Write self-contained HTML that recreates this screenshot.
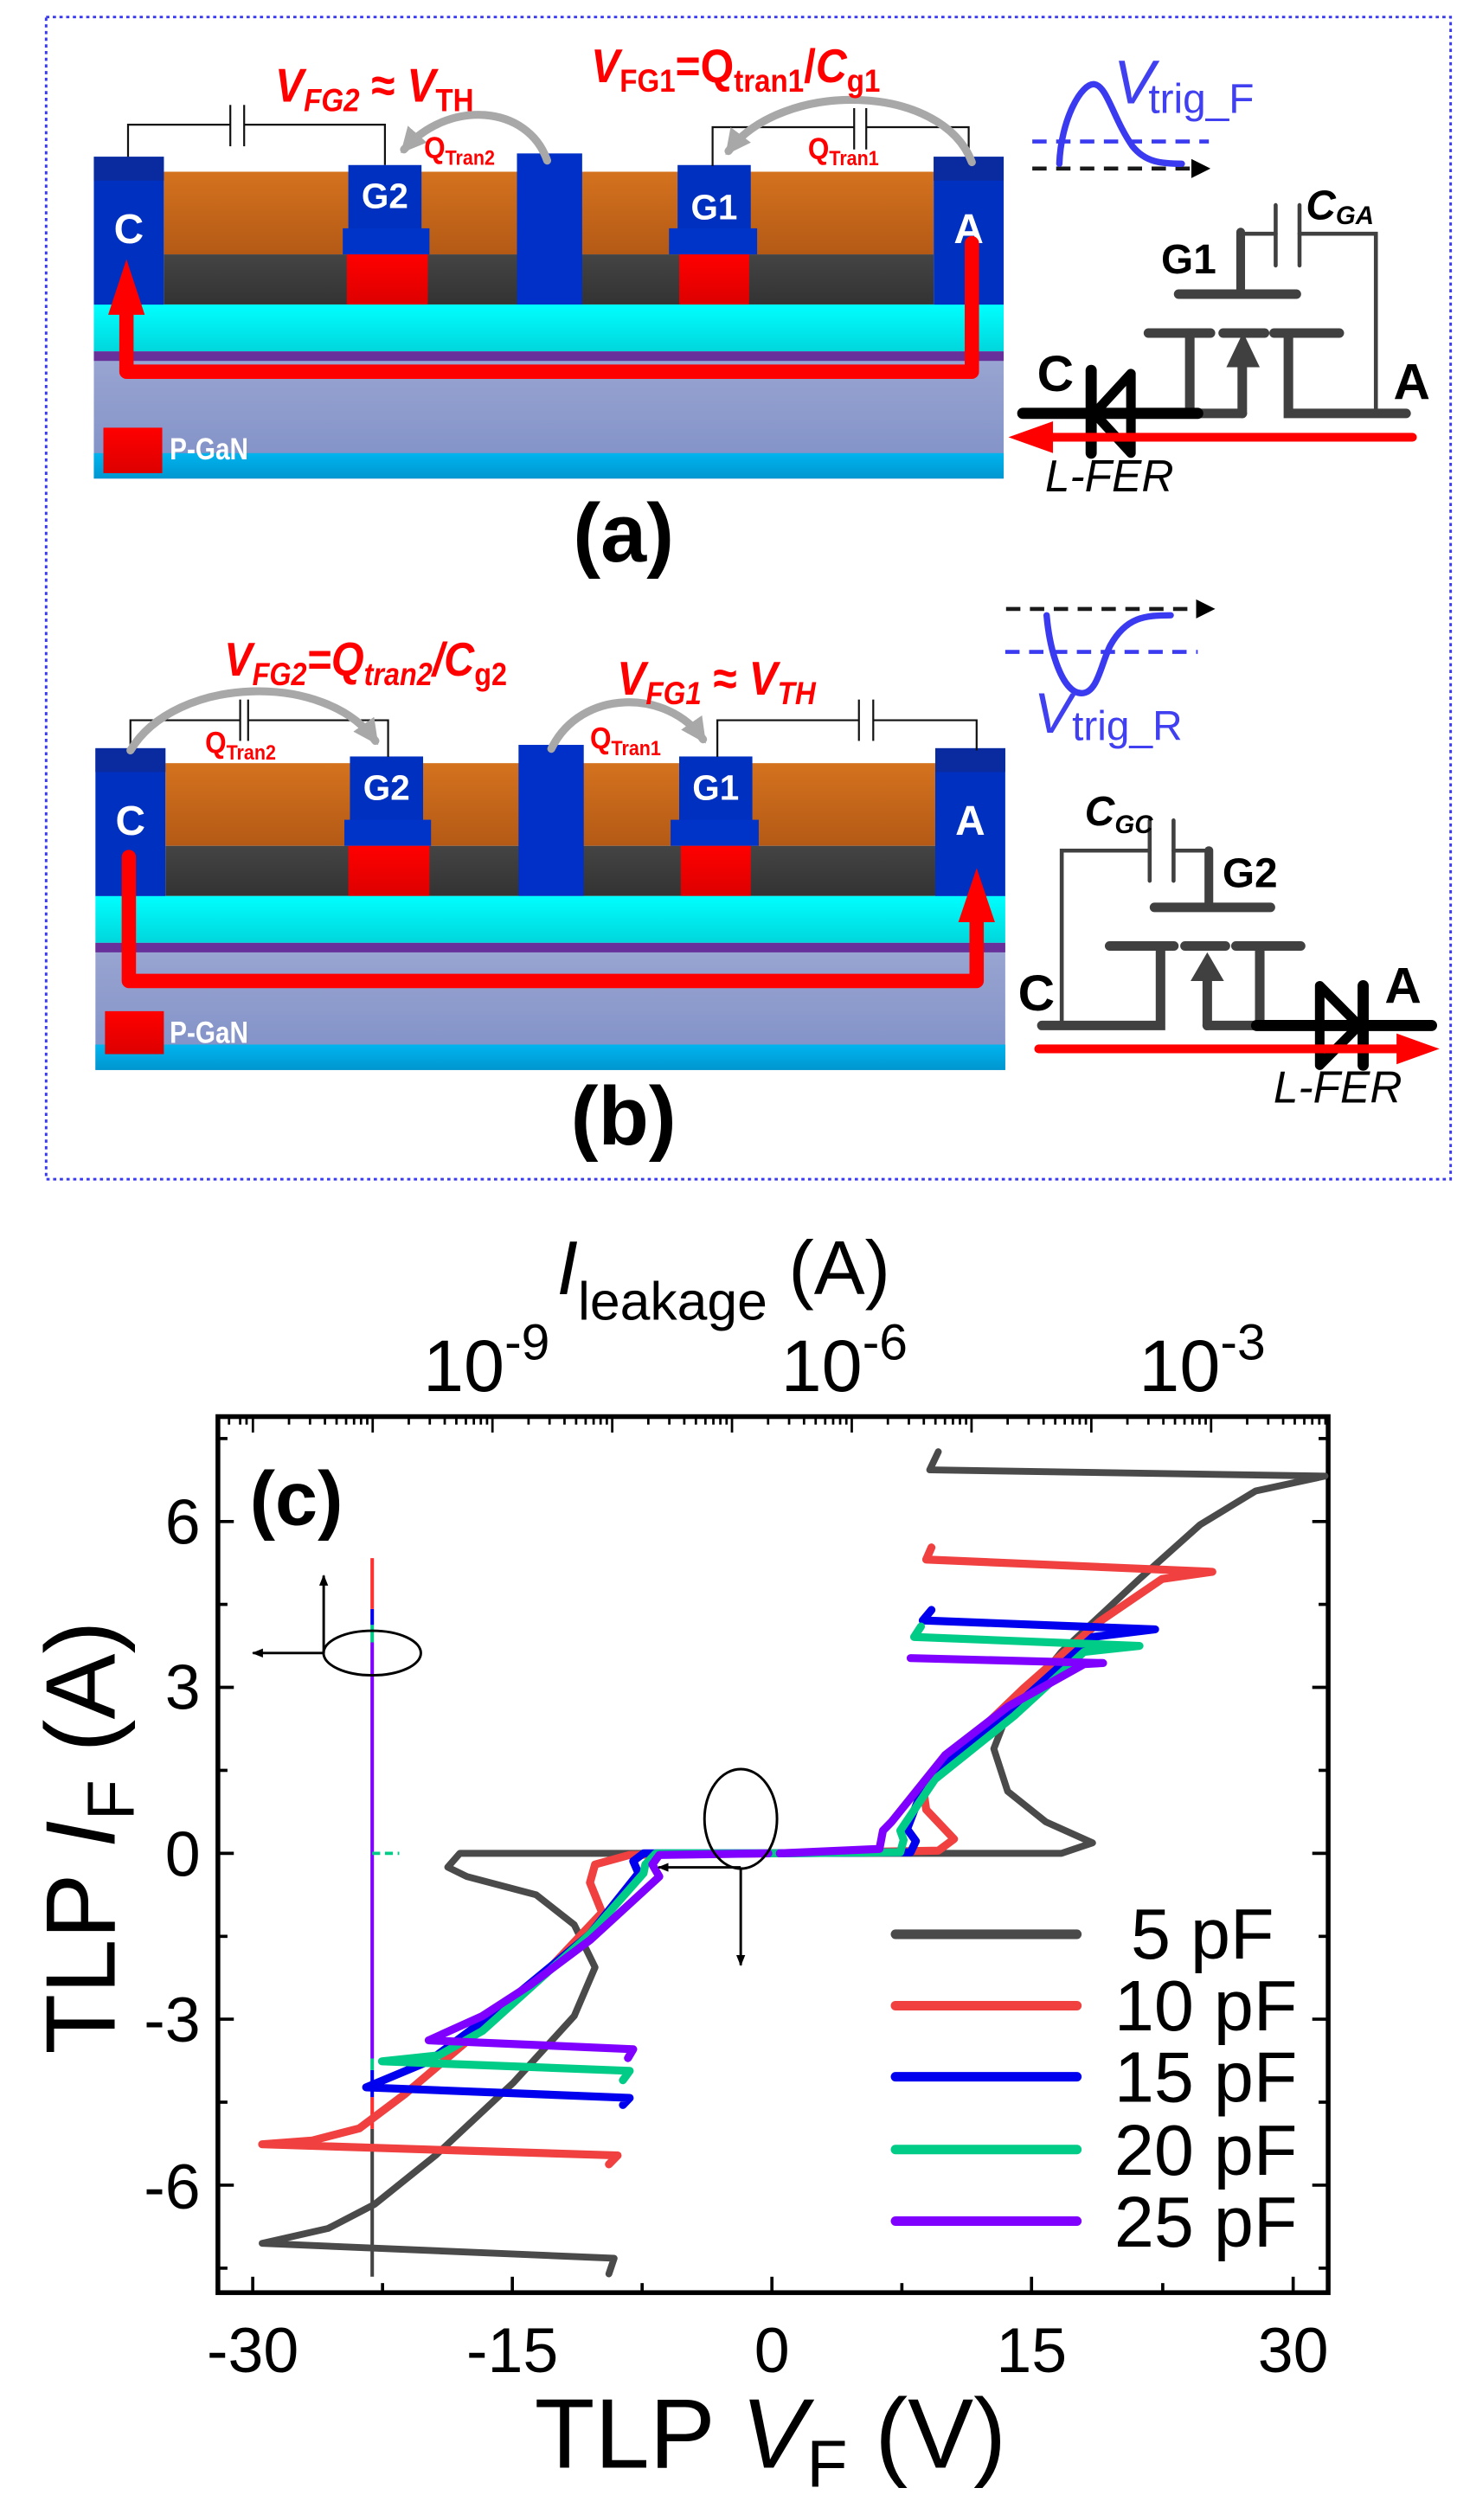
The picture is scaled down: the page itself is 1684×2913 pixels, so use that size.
<!DOCTYPE html>
<html><head><meta charset="utf-8"><style>
html,body{margin:0;padding:0;background:#fff}
svg{display:block}
text{font-family:"Liberation Sans",Arial,sans-serif}
</style></head><body>
<svg width="1684" height="2913" viewBox="0 0 916 1585" preserveAspectRatio="none" xmlns="http://www.w3.org/2000/svg">
<defs>
<linearGradient id="or" x1="0" y1="0" x2="0" y2="1"><stop offset="0" stop-color="#d4721e"/><stop offset="1" stop-color="#b45a16"/></linearGradient>
<linearGradient id="dk" x1="0" y1="0" x2="0" y2="1"><stop offset="0" stop-color="#444"/><stop offset="1" stop-color="#333"/></linearGradient>
<linearGradient id="cy" x1="0" y1="0" x2="0" y2="1"><stop offset="0" stop-color="#00ffff"/><stop offset="1" stop-color="#00d6dc"/></linearGradient>
<linearGradient id="gb" x1="0" y1="0" x2="0" y2="1"><stop offset="0" stop-color="#9aa6d2"/><stop offset="1" stop-color="#7f8fc6"/></linearGradient>
<linearGradient id="bc" x1="0" y1="0" x2="0" y2="1"><stop offset="0" stop-color="#00b4ee"/><stop offset="1" stop-color="#0096d0"/></linearGradient>
<linearGradient id="rd" x1="0" y1="0" x2="0" y2="1"><stop offset="0" stop-color="#ff0000"/><stop offset="1" stop-color="#dd0000"/></linearGradient>
<marker id="ga" viewBox="0 0 10 10" refX="8" refY="5" markerWidth="3.2" markerHeight="3.2" orient="auto"><path d="M0,0 L10,5 L0,10 z" fill="#a8a8a8"/></marker>
<marker id="ka" viewBox="0 0 10 10" refX="9" refY="5" markerWidth="7" markerHeight="7" markerUnits="userSpaceOnUse" orient="auto"><path d="M0,1 L10,5 L0,9 z" fill="#000"/></marker>
</defs>

<rect x="29" y="10.7" width="883" height="731" fill="none" stroke="#3a3af0" stroke-width="1.6" stroke-dasharray="2,2.2"/>

<!-- ============ DEVICE A ============ -->
<g>
<rect x="59" y="221" width="572" height="80" fill="url(#gb)"/>
<rect x="59" y="285" width="572" height="16" fill="url(#bc)"/>
<rect x="59" y="191.5" width="572" height="29.5" fill="url(#cy)"/>
<rect x="59" y="221" width="572" height="6" fill="#67309a"/>
<rect x="103" y="108" width="484" height="52" fill="url(#or)"/>
<rect x="103" y="160" width="484" height="31.5" fill="url(#dk)"/>
<rect x="59" y="98.6" width="44" height="93" fill="#0030c0"/>
<rect x="59" y="98.6" width="44" height="15" fill="#0a2aa0"/>
<rect x="587" y="98.6" width="44" height="93" fill="#0030c0"/>
<rect x="587" y="98.6" width="44" height="15" fill="#0a2aa0"/>
<rect x="325" y="96.5" width="41" height="95" fill="#0030c8"/>
<rect x="219" y="103.8" width="46" height="40" fill="#0030c0"/>
<rect x="215.5" y="143.6" width="54.5" height="16.4" fill="#0033c8"/>
<rect x="218" y="160" width="51" height="31.5" fill="url(#rd)"/>
<rect x="426" y="103.8" width="46" height="40" fill="#0030c0"/>
<rect x="420.6" y="143.6" width="55.4" height="16.4" fill="#0033c8"/>
<rect x="427" y="160" width="44" height="31.5" fill="url(#rd)"/>
<text x="81" y="153" font-size="26" font-weight="bold" fill="#fff" text-anchor="middle">C</text>
<text x="242" y="131" font-size="22" font-weight="bold" fill="#fff" text-anchor="middle">G2</text>
<text x="449" y="138" font-size="22" font-weight="bold" fill="#fff" text-anchor="middle">G1</text>
<text x="609" y="153" font-size="26" font-weight="bold" fill="#fff" text-anchor="middle">A</text>
<rect x="65" y="269" width="37" height="28.6" fill="url(#rd)"/>
<text transform="translate(106.7,289) scale(0.85,1)" font-size="19" font-weight="bold" fill="#fff">P-GaN</text>
</g>
<g stroke="#111" stroke-width="1.2" fill="none">
<polyline points="80.5,98.6 80.5,78.4 144.8,78.4"/>
<line x1="144.8" y1="66" x2="144.8" y2="92"/><line x1="153.5" y1="66" x2="153.5" y2="92"/>
<polyline points="153.5,78.4 242,78.4 242,103.8"/>
<polyline points="448,104.5 448,80 537,80"/>
<line x1="537" y1="68" x2="537" y2="94"/><line x1="544.6" y1="68" x2="544.6" y2="94"/>
<polyline points="544.6,80 609,80 609,98.6"/>
</g>
<g stroke="#a8a8a8" stroke-width="5" fill="none" stroke-linecap="round">
<path d="M344,101 C332,66 282,62 254,94" marker-end="url(#ga)"/>
<path d="M611,102 C592,52 492,50 458,95" marker-end="url(#ga)"/>
</g>
<path d="M611,153 V233.8 H79.5 V196" stroke="#ff0000" stroke-width="9" fill="none" stroke-linejoin="round" stroke-linecap="round"/>
<polygon points="68,198 91,198 79.5,163" fill="#ff0000"/>
<g fill="#ff0000" font-weight="bold">
<text transform="translate(173,64) scale(0.9,1)" font-size="30"><tspan font-style="italic">V</tspan><tspan font-size="20" dy="6" font-style="italic">FG2</tspan><tspan dy="-6"> ≈ </tspan><tspan font-style="italic">V</tspan><tspan font-size="20" dy="6">TH</tspan></text>
<text transform="translate(371.6,51.6) scale(0.9,1)" font-size="30"><tspan font-style="italic">V</tspan><tspan font-size="20" dy="6">FG1</tspan><tspan dy="-6">=Q</tspan><tspan font-size="20" dy="6">tran1</tspan><tspan dy="-6">/</tspan><tspan font-style="italic">C</tspan><tspan font-size="20" dy="6">g1</tspan></text>
<text transform="translate(266.6,99.6) scale(0.9,1)" font-size="19">Q<tspan font-size="13" dy="4">Tran2</tspan></text>
<text transform="translate(508,100) scale(0.9,1)" font-size="19">Q<tspan font-size="13" dy="4">Tran1</tspan></text>
</g>
<text x="392" y="353" font-size="52" font-weight="bold" text-anchor="middle" fill="#000">(a)</text>

<!-- circuit a -->
<line x1="649" y1="106" x2="749" y2="106" stroke="#1a1a1a" stroke-width="2.5" stroke-dasharray="9,6"/>
<polygon points="749,100 749,112 761,106" fill="#000"/>
<line x1="649" y1="89" x2="760" y2="89" stroke="#3a3af0" stroke-width="2.5" stroke-dasharray="9,6"/>
<path d="M666,103 C667,75 680,52 688,53 C696,54 700,75 712,92 C720,102 730,103 743,103" stroke="#3a3af0" stroke-width="4" fill="none" stroke-linecap="round"/>
<text x="700" y="65" font-size="39" font-style="italic" fill="#4040f0">V</text>
<text x="722" y="71" font-size="26" fill="#4040f0">trig_F</text>
<g stroke="#404040" fill="none" stroke-linecap="round">
<line x1="802" y1="129" x2="802" y2="167" stroke-width="2.5"/>
<line x1="817" y1="129" x2="817" y2="167" stroke-width="2.5"/>
<polyline points="780,147 802,147" stroke-width="2.5"/>
<polyline points="817,147 865,147 865,260" stroke-width="2.5"/>
<line x1="780" y1="146" x2="780" y2="185" stroke-width="5.5"/>
<line x1="741" y1="185" x2="815" y2="185" stroke-width="6"/>
<line x1="722" y1="209.5" x2="761" y2="209.5" stroke-width="6"/>
<line x1="769" y1="209.5" x2="795" y2="209.5" stroke-width="6"/>
<line x1="801" y1="209.5" x2="842" y2="209.5" stroke-width="6"/>
<line x1="748" y1="209.5" x2="748" y2="260" stroke-width="6"/>
<line x1="781" y1="260" x2="781" y2="230" stroke-width="6"/>
<polyline points="810,209.5 810,260 884,260" stroke-width="6"/>
<line x1="748" y1="260" x2="781" y2="260" stroke-width="6"/>
</g>
<polygon points="771,231 792,231 781.5,209" fill="#404040"/>
<line x1="643" y1="260" x2="753" y2="260" stroke="#000" stroke-width="7" stroke-linecap="round"/>
<line x1="686" y1="233" x2="686" y2="285" stroke="#000" stroke-width="7" stroke-linecap="round"/>
<polygon points="711,235 711,285 688,260" fill="none" stroke="#000" stroke-width="6" stroke-linejoin="round"/>
<line x1="888" y1="275" x2="660" y2="275" stroke="#ff0000" stroke-width="5.5" stroke-linecap="round"/>
<polygon points="662,265 662,285 634,275" fill="#ff0000"/>
<text x="652" y="246" font-size="32" font-weight="bold">C</text>
<text x="876" y="251" font-size="32" font-weight="bold">A</text>
<text x="730" y="172" font-size="26" font-weight="bold">G1</text>
<text x="821" y="138" font-size="26" font-weight="bold" font-style="italic">C<tspan font-size="16" dy="3">GA</tspan></text>
<text x="657" y="309" font-size="28" font-style="italic">L-FER</text>

<!-- ============ DEVICE B ============ -->
<g transform="translate(1,372)">
<rect x="59" y="221" width="572" height="80" fill="url(#gb)"/>
<rect x="59" y="285" width="572" height="16" fill="url(#bc)"/>
<rect x="59" y="191.5" width="572" height="29.5" fill="url(#cy)"/>
<rect x="59" y="221" width="572" height="6" fill="#67309a"/>
<rect x="103" y="108" width="484" height="52" fill="url(#or)"/>
<rect x="103" y="160" width="484" height="31.5" fill="url(#dk)"/>
<rect x="59" y="98.6" width="44" height="93" fill="#0030c0"/>
<rect x="59" y="98.6" width="44" height="15" fill="#0a2aa0"/>
<rect x="587" y="98.6" width="44" height="93" fill="#0030c0"/>
<rect x="587" y="98.6" width="44" height="15" fill="#0a2aa0"/>
<rect x="325" y="96.5" width="41" height="95" fill="#0030c8"/>
<rect x="219" y="103.8" width="46" height="40" fill="#0030c0"/>
<rect x="215.5" y="143.6" width="54.5" height="16.4" fill="#0033c8"/>
<rect x="218" y="160" width="51" height="31.5" fill="url(#rd)"/>
<rect x="426" y="103.8" width="46" height="40" fill="#0030c0"/>
<rect x="420.6" y="143.6" width="55.4" height="16.4" fill="#0033c8"/>
<rect x="427" y="160" width="44" height="31.5" fill="url(#rd)"/>
<text x="81" y="153" font-size="26" font-weight="bold" fill="#fff" text-anchor="middle">C</text>
<text x="242" y="131" font-size="22" font-weight="bold" fill="#fff" text-anchor="middle">G2</text>
<text x="449" y="131" font-size="22" font-weight="bold" fill="#fff" text-anchor="middle">G1</text>
<text x="609" y="153" font-size="26" font-weight="bold" fill="#fff" text-anchor="middle">A</text>
<rect x="65" y="264" width="37" height="27" fill="url(#rd)"/>
<text transform="translate(105.7,284) scale(0.85,1)" font-size="19" font-weight="bold" fill="#fff">P-GaN</text>
</g>
<g stroke="#111" stroke-width="1.2" fill="none">
<polyline points="82,472 82,453 151,453"/>
<line x1="151" y1="440" x2="151" y2="466"/><line x1="156" y1="440" x2="156" y2="466"/>
<polyline points="156,453 244,453 244,476"/>
<polyline points="451,476 451,453 540,453"/>
<line x1="540" y1="440" x2="540" y2="466"/><line x1="549" y1="440" x2="549" y2="466"/>
<polyline points="549,453 614,453 614,472"/>
</g>
<g stroke="#a8a8a8" stroke-width="5" fill="none" stroke-linecap="round">
<path d="M82,472 C110,425 205,422 236,466" marker-end="url(#ga)"/>
<path d="M346.6,471 C365,433 420,433 442,465" marker-end="url(#ga)"/>
</g>
<path d="M81,539 V617 H614 V578" stroke="#ff0000" stroke-width="9" fill="none" stroke-linejoin="round" stroke-linecap="round"/>
<polygon points="602.5,580 625.5,580 614,546" fill="#ff0000"/>
<g fill="#ff0000" font-weight="bold" font-style="italic">
<text transform="translate(141,425) scale(0.88,1)" font-size="30">V<tspan font-size="20" dy="6">FG2</tspan><tspan dy="-6">=Q</tspan><tspan font-size="20" dy="6">tran2</tspan><tspan dy="-6">/C</tspan><tspan font-size="20" dy="6" font-style="normal">g2</tspan></text>
<text transform="translate(388,437) scale(0.9,1)" font-size="30">V<tspan font-size="20" dy="6">FG1</tspan><tspan dy="-6" font-style="normal"> ≈ </tspan>V<tspan font-size="20" dy="6">TH</tspan></text>
</g>
<g fill="#ff0000" font-weight="bold">
<text transform="translate(129,473.6) scale(0.9,1)" font-size="19">Q<tspan font-size="13" dy="4">Tran2</tspan></text>
<text transform="translate(371,471) scale(0.9,1)" font-size="19">Q<tspan font-size="13" dy="4">Tran1</tspan></text>
</g>
<text x="392" y="720" font-size="52" font-weight="bold" text-anchor="middle" fill="#000">(b)</text>

<!-- circuit b -->
<line x1="632.5" y1="383" x2="752" y2="383" stroke="#1a1a1a" stroke-width="2.5" stroke-dasharray="9,6"/>
<polygon points="752,377 752,389 764,383" fill="#000"/>
<line x1="632" y1="410" x2="753" y2="410" stroke="#3a3af0" stroke-width="2.5" stroke-dasharray="9,6"/>
<path d="M658,387 C660,410 668,436 680,436 C690,436 692,418 698,406 C708,388 720,387 736,387" stroke="#3a3af0" stroke-width="4" fill="none" stroke-linecap="round"/>
<text x="650" y="461" font-size="36" font-style="italic" fill="#4040f0">V</text>
<text x="674" y="465.5" font-size="26" fill="#4040f0">trig_R</text>
<g stroke="#404040" fill="none" stroke-linecap="round">
<line x1="722.8" y1="516" x2="722.8" y2="554" stroke-width="2.5"/>
<line x1="737.8" y1="516" x2="737.8" y2="554" stroke-width="2.5"/>
<polyline points="722.8,535 667.5,535 667.5,645" stroke-width="2.5"/>
<polyline points="737.8,535 760,535" stroke-width="2.5"/>
<line x1="760" y1="535" x2="760" y2="570.7" stroke-width="5.5"/>
<line x1="725.8" y1="570.7" x2="798.7" y2="570.7" stroke-width="6"/>
<line x1="697.6" y1="595" x2="738" y2="595" stroke-width="6"/>
<line x1="745" y1="595" x2="770.4" y2="595" stroke-width="6"/>
<line x1="777" y1="595" x2="817.7" y2="595" stroke-width="6"/>
<polyline points="729.6,595 729.6,645 655,645" stroke-width="6"/>
<line x1="759" y1="645" x2="759" y2="616" stroke-width="6"/>
<polyline points="759,645 792,645 792,595" stroke-width="6"/>
</g>
<polygon points="748.5,617 769.5,617 759,599" fill="#404040"/>
<line x1="790" y1="645" x2="900" y2="645" stroke="#000" stroke-width="7" stroke-linecap="round"/>
<polygon points="829.7,620 829.7,670 854.5,645" fill="none" stroke="#000" stroke-width="6" stroke-linejoin="round"/>
<line x1="857" y1="620" x2="857" y2="670" stroke="#000" stroke-width="7" stroke-linecap="round"/>
<line x1="653" y1="659.7" x2="880" y2="659.7" stroke="#ff0000" stroke-width="5.5" stroke-linecap="round"/>
<polygon points="878,650 878,669.4 905,659.7" fill="#ff0000"/>
<text x="640" y="635.5" font-size="32" font-weight="bold">C</text>
<text x="870.5" y="631" font-size="32" font-weight="bold">A</text>
<text x="768.5" y="558" font-size="26" font-weight="bold">G2</text>
<text x="682" y="519" font-size="26" font-weight="bold" font-style="italic">C<tspan font-size="16" dy="5">GC</tspan></text>
<text x="800.6" y="693.5" font-size="28" font-style="italic">L-FER</text>

<!-- ============ PLOT (c) ============ -->
<rect x="137" y="891" width="698" height="551" fill="none" stroke="#000" stroke-width="3"/>
<g stroke="#000" stroke-width="2">
<line x1="158.9" y1="1442" x2="158.9" y2="1432"/><line x1="322.1" y1="1442" x2="322.1" y2="1432"/><line x1="485.3" y1="1442" x2="485.3" y2="1432"/><line x1="648.5" y1="1442" x2="648.5" y2="1432"/><line x1="813" y1="1442" x2="813" y2="1432"/>
<line x1="240.5" y1="1442" x2="240.5" y2="1436"/><line x1="403.7" y1="1442" x2="403.7" y2="1436"/><line x1="567" y1="1442" x2="567" y2="1436"/><line x1="731" y1="1442" x2="731" y2="1436"/>
<line x1="137" y1="957" x2="147" y2="957"/><line x1="137" y1="1061.3" x2="147" y2="1061.3"/><line x1="137" y1="1165.7" x2="147" y2="1165.7"/><line x1="137" y1="1270" x2="147" y2="1270"/><line x1="137" y1="1374.4" x2="147" y2="1374.4"/>
<line x1="137" y1="904.8" x2="143" y2="904.8"/><line x1="137" y1="1009.1" x2="143" y2="1009.1"/><line x1="137" y1="1113.5" x2="143" y2="1113.5"/><line x1="137" y1="1217.9" x2="143" y2="1217.9"/><line x1="137" y1="1322.2" x2="143" y2="1322.2"/><line x1="137" y1="1426.6" x2="143" y2="1426.6"/>
<line x1="835" y1="957" x2="825" y2="957"/><line x1="835" y1="1061.3" x2="825" y2="1061.3"/><line x1="835" y1="1165.7" x2="825" y2="1165.7"/><line x1="835" y1="1270" x2="825" y2="1270"/><line x1="835" y1="1374.4" x2="825" y2="1374.4"/>
<line x1="835" y1="904.8" x2="829" y2="904.8"/><line x1="835" y1="1009.1" x2="829" y2="1009.1"/><line x1="835" y1="1113.5" x2="829" y2="1113.5"/><line x1="835" y1="1217.9" x2="829" y2="1217.9"/><line x1="835" y1="1322.2" x2="829" y2="1322.2"/><line x1="835" y1="1426.6" x2="829" y2="1426.6"/>
</g>
<g stroke-width="2.2">
<line x1="234" y1="1432" x2="234" y2="1339" stroke="#444"/>
<line x1="234" y1="1339" x2="234" y2="1319" stroke="#ff3030"/>
<line x1="234" y1="1319" x2="234" y2="1302" stroke="#0000ee"/>
<line x1="234" y1="1302" x2="234" y2="1294.7" stroke="#00cc88"/>
<line x1="234" y1="1294.7" x2="234" y2="1033" stroke="#8000ff"/>
<line x1="234" y1="1033" x2="234" y2="1022" stroke="#00cc88"/>
<line x1="234" y1="1022" x2="234" y2="1012" stroke="#0000ee"/>
<line x1="234" y1="1012" x2="234" y2="980" stroke="#ff3030"/>
</g>
<line x1="234" y1="1165.7" x2="251" y2="1165.7" stroke="#00cc88" stroke-width="2" stroke-dasharray="5,3"/>
<g fill="none" stroke-linejoin="round" stroke-linecap="round">
<polyline stroke="#4a4a4a" stroke-width="4.3" points="382.8,1430.2 386.1,1420.4 164.8,1411 206.3,1401.6 235.7,1386.3 273.8,1355.7 322.9,1309.8 361,1268 374.1,1237.4 361,1210.6 337.1,1191.8 293.5,1180.3 281.5,1174.4 289.1,1165.7 667.3,1165.7 686.9,1159.1 657.5,1145.9 633.5,1126.7 624.8,1099.9 631.4,1082.9 667.3,1039 716.4,993.1 754.5,959 789.4,937.8 833,928.4 584.5,924.5 589.9,913.1"/>
<polyline stroke="#f04040" stroke-width="5" points="382.8,1361.3 388.3,1355.7 164.8,1348.7 196.4,1346.3 225.9,1338.7 254.2,1317.4 303.3,1275.7 342.5,1241.2 378.5,1202.9 370.9,1184.1 374.1,1172.7 395.9,1166.7 485.3,1165.7 589.9,1164 599.8,1156.7 582.3,1138.2 580.1,1122.9 643.4,1062 691.3,1019.9 730.6,993.1 762.2,988.6 582.3,980.9 585.6,973.3"/>
<polyline stroke="#0000ee" stroke-width="5" points="391.6,1324 395.9,1319.5 230.2,1312.9 269.5,1296.5 313.1,1264.2 370.9,1216.5 401.4,1178.2 398.1,1170.6 404.6,1165.7 485.3,1165.7 572.5,1165 575.8,1158 570.3,1150.4 582.3,1119.1 637.9,1073.5 686.9,1029.6 726.2,1024.8 580.1,1019.2 585.6,1012.6"/>
<polyline stroke="#00cc88" stroke-width="5" points="391.6,1308.4 395.9,1302.5 240.1,1296.5 276,1292.7 303.3,1277.4 370.9,1216.5 404.6,1178.2 405.7,1172.7 412.3,1165.7 485.3,1165.7 566,1165 568.1,1157.3 566,1151.4 587.8,1119.1 637.9,1079 681.5,1039 716.4,1035.2 574.7,1029.6 579,1023"/>
<polyline stroke="#8000ff" stroke-width="5" points="394.8,1294.5 398.1,1288.9 269.5,1283.3 303.3,1268 332.7,1248.9 370.9,1220.3 414.5,1180.3 410.1,1172.7 414.5,1166.7 483.1,1165.7"/>
<polyline stroke="#8000ff" stroke-width="5" points="490.2,1165.7 552.9,1162.9 555.1,1151.4 560.5,1145.9 594.3,1103.8 633.5,1073.5 681.5,1046.7 693.5,1046 572.5,1042.9"/>
</g>
<ellipse cx="234" cy="1039.7" rx="30.6" ry="14" fill="none" stroke="#000" stroke-width="1.6"/>
<line x1="203.5" y1="1039.7" x2="203.5" y2="991" stroke="#000" stroke-width="1.6" marker-end="url(#ka)"/>
<line x1="203.5" y1="1039.7" x2="159" y2="1039.7" stroke="#000" stroke-width="1.6" marker-end="url(#ka)"/>
<ellipse cx="465.7" cy="1144" rx="22.8" ry="31.3" fill="none" stroke="#000" stroke-width="1.6"/>
<line x1="465.7" y1="1174.5" x2="465.7" y2="1236" stroke="#000" stroke-width="1.6" marker-end="url(#ka)"/>
<line x1="465.7" y1="1174.5" x2="414" y2="1174.5" stroke="#000" stroke-width="1.6" marker-end="url(#ka)"/>
<g stroke-width="6" stroke-linecap="round">
<line x1="563" y1="1216.6" x2="677" y2="1216.6" stroke="#4a4a4a"/>
<line x1="563" y1="1261.5" x2="677" y2="1261.5" stroke="#f04040"/>
<line x1="563" y1="1306.2" x2="677" y2="1306.2" stroke="#0000ee"/>
<line x1="563" y1="1352" x2="677" y2="1352" stroke="#00cc88"/>
<line x1="563" y1="1397" x2="677" y2="1397" stroke="#8000ff"/>
</g>
<g font-size="45" text-anchor="end">
<text x="801" y="1232">5 pF</text>
<text x="815.6" y="1277">10 pF</text>
<text x="815.6" y="1322">15 pF</text>
<text x="815.6" y="1368">20 pF</text>
<text x="815.6" y="1413">25 pF</text>
</g>
<text x="157" y="959" font-size="48" font-weight="bold">(c)</text>
<g font-size="40" text-anchor="middle">
<text x="158.9" y="1492">-30</text><text x="322.1" y="1492">-15</text><text x="485.3" y="1492">0</text><text x="648.5" y="1492">15</text><text x="813" y="1492">30</text>
</g>
<g font-size="40" text-anchor="end">
<text x="126" y="971">6</text><text x="126" y="1075">3</text><text x="126" y="1180">0</text><text x="126" y="1284">-3</text><text x="126" y="1389">-6</text>
</g>
<g font-size="46">
<text x="266" y="875">10<tspan font-size="32" dy="-20">-9</tspan></text>
<text x="491" y="875">10<tspan font-size="32" dy="-20">-6</tspan></text>
<text x="716" y="875">10<tspan font-size="32" dy="-20">-3</tspan></text>
</g>
<text x="350" y="814" font-size="48"><tspan font-style="italic">I</tspan><tspan font-size="34" dy="16">leakage</tspan><tspan dy="-16"> (A)</tspan></text>
<text x="336" y="1552" font-size="62">TLP <tspan font-style="italic">V</tspan><tspan font-size="42" dy="12">F</tspan><tspan dy="-12"> (V)</tspan></text>
<text transform="translate(72,1292) rotate(-90)" font-size="62">TLP <tspan font-style="italic">I</tspan><tspan font-size="42" dy="12">F</tspan><tspan dy="-12"> (A)</tspan></text>
<g stroke="#000" stroke-width="1.5">
<line x1="159" y1="891" x2="159" y2="901"/><line x1="234.3" y1="891" x2="234.3" y2="901"/><line x1="309.6" y1="891" x2="309.6" y2="901"/><line x1="384.9" y1="891" x2="384.9" y2="901"/><line x1="460.2" y1="891" x2="460.2" y2="901"/><line x1="535.5" y1="891" x2="535.5" y2="901"/><line x1="610.8" y1="891" x2="610.8" y2="901"/><line x1="686.1" y1="891" x2="686.1" y2="901"/><line x1="761.4" y1="891" x2="761.4" y2="901"/>
<path fill="none" d="M181.7,891v5M194.9,891v5M204.3,891v5M211.6,891v5M217.6,891v5M222.6,891v5M227,891v5M230.9,891v5
M257,891v5M270.2,891v5M279.6,891v5M286.9,891v5M292.9,891v5M297.9,891v5M302.3,891v5M306.2,891v5
M332.3,891v5M345.5,891v5M354.9,891v5M362.2,891v5M368.2,891v5M373.2,891v5M377.6,891v5M381.5,891v5
M407.6,891v5M420.8,891v5M430.2,891v5M437.5,891v5M443.5,891v5M448.5,891v5M452.9,891v5M456.8,891v5
M482.9,891v5M496.1,891v5M505.5,891v5M512.8,891v5M518.8,891v5M523.8,891v5M528.2,891v5M532.1,891v5
M558.2,891v5M571.4,891v5M580.8,891v5M588.1,891v5M594.1,891v5M599.1,891v5M603.5,891v5M607.4,891v5
M633.5,891v5M646.7,891v5M656.1,891v5M663.4,891v5M669.4,891v5M674.4,891v5M678.8,891v5M682.7,891v5
M708.8,891v5M722,891v5M731.4,891v5M738.7,891v5M744.7,891v5M749.7,891v5M754.1,891v5M758,891v5
M784.1,891v5M797.3,891v5M806.7,891v5M814,891v5M820,891v5M825,891v5M829.4,891v5M833.3,891v5
M144,891v5M151,891v5M155,891v5"/>
</g>
</svg>
</body></html>
